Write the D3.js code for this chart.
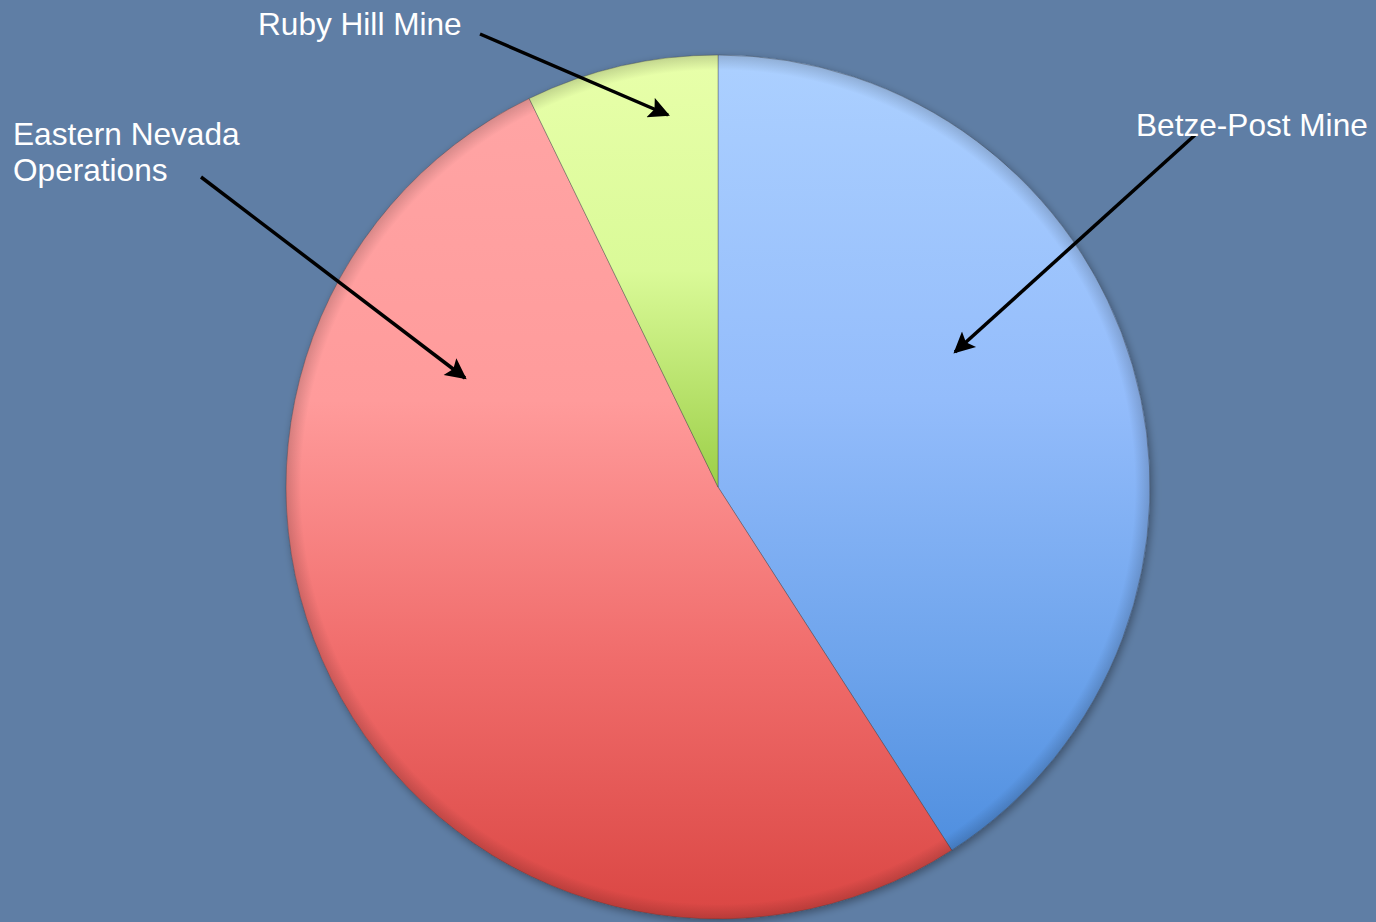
<!DOCTYPE html>
<html>
<head>
<meta charset="utf-8">
<script src="https://cdn.jsdelivr.net/npm/d3@7"></script>
<style>
  html, body { margin: 0; padding: 0; background: #5f7ea5; }
  svg { display: block; }
</style>
</head>
<body>
<svg id="chart"></svg>
<script>
const mines = ['Betze-Post Mine', 'Eastern Nevada Operations', 'Ruby Hill Mine'];
const shares = [40.9, 51.9, 7.2];
// gradient stops per slice, top to bottom of the pie
const gradientOffsets = [0, 0.4, 0.7, 1];
const greenOffsets = [0, 0.25, 0.5, 1];
const blueStops = ['#acd0ff', '#93bcfb', '#6ea4ec', '#4487da'];
const redStops = ['#ffa6a6', '#ff9b9b', '#f06c6b', '#da4643'];
const greenStops = ['#e8ffaa', '#dafa98', '#9ccf48', '#98cc46'];
const labelLines = [['Betze-Post Mine'], ['Eastern Nevada', 'Operations'], ['Ruby Hill Mine']];

const width = 1376;
const height = 922;
const cx = 718;
const cy = 487;
const radius = 432;

const svg = d3.select('#chart')
    .attr('width', width)
    .attr('height', height);

const defs = svg.append('defs');

[blueStops, redStops, greenStops].forEach((stops, i) => {
    const offsets = i === 2 ? greenOffsets : gradientOffsets;
    const g = defs.append('linearGradient')
        .attr('id', `grad-${i}`)
        .attr('gradientUnits', 'userSpaceOnUse')
        .attr('x1', 0).attr('y1', -radius)
        .attr('x2', 0).attr('y2', radius);
    stops.forEach((c, j) => {
        g.append('stop').attr('offset', offsets[j]).attr('stop-color', c);
    });
});

const shade = defs.append('radialGradient')
    .attr('id', 'bevel')
    .attr('gradientUnits', 'userSpaceOnUse')
    .attr('cx', 0).attr('cy', 0).attr('r', radius);
shade.append('stop').attr('offset', '96.5%').attr('stop-color', '#000').attr('stop-opacity', 0);
shade.append('stop').attr('offset', '100%').attr('stop-color', '#000').attr('stop-opacity', 0.16);

const shadow = defs.append('filter').attr('id', 'shadow')
    .attr('x', '-10%').attr('y', '-10%').attr('width', '120%').attr('height', '120%');
shadow.append('feDropShadow')
    .attr('dx', 2).attr('dy', 3).attr('stdDeviation', 4)
    .attr('flood-color', '#000').attr('flood-opacity', 0.35);

defs.append('marker')
    .attr('id', 'arrow')
    .attr('viewBox', '0 0 10 10')
    .attr('refX', 9).attr('refY', 5)
    .attr('markerWidth', 6.5).attr('markerHeight', 6)
    .attr('markerUnits', 'strokeWidth')
    .attr('orient', 'auto')
    .append('path')
    .attr('d', 'M0,0 L10,5 L0,10 L2,5 Z')
    .attr('fill', '#000');

const pie = d3.pie().sort(null).value(d => d);
const arcs = pie(shares);
const arc = d3.arc().innerRadius(0).outerRadius(radius);

const g = svg.append('g').attr('transform', `translate(${cx},${cy})`);

g.append('circle')
    .attr('r', radius)
    .attr('fill', '#5f7ea5')
    .attr('filter', 'url(#shadow)');

g.selectAll('path.slice')
    .data(arcs)
    .enter()
    .append('path')
    .attr('class', 'slice')
    .attr('d', arc)
    .attr('fill', (d, i) => `url(#grad-${i})`)
    .attr('stroke', 'rgba(60,60,60,0.35)')
    .attr('stroke-width', 1);

g.append('circle')
    .attr('r', radius)
    .attr('fill', 'url(#bevel)')
    .attr('pointer-events', 'none');

// arrows from the labels into the slices
const arrowStarts = [[1195, 135], [201, 177], [480, 34]];
const arrowEnds = [[955, 352], [465, 378], [668, 115]];

arrowStarts.forEach((s, i) => {
    svg.append('line')
        .attr('x1', s[0]).attr('y1', s[1])
        .attr('x2', arrowEnds[i][0]).attr('y2', arrowEnds[i][1])
        .attr('stroke', '#000')
        .attr('stroke-width', 3.5)
        .attr('marker-end', 'url(#arrow)');
});

const labelPos = [[1136, 136], [13, 145], [258, 35]];

labelLines.forEach((lines, i) => {
    const t = svg.append('text')
        .attr('x', labelPos[i][0])
        .attr('y', labelPos[i][1])
        .attr('fill', '#fff')
        .attr('font-family', 'Liberation Sans, Arial, sans-serif')
        .attr('font-size', 31.6);
    lines.forEach((line, j) => {
        t.append('tspan')
            .attr('x', labelPos[i][0])
            .attr('dy', j === 0 ? 0 : 36)
            .text(line);
    });
});
</script>
</body>
</html>
